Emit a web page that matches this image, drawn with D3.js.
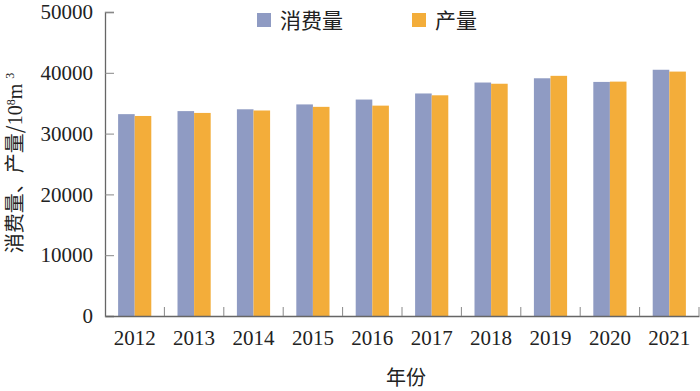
<!DOCTYPE html>
<html>
<head>
<meta charset="utf-8">
<script src="https://cdn.jsdelivr.net/npm/d3@7"></script>
<style>
  body { margin: 0; background: #fff; }
  text { font-family: "Liberation Serif", "Noto Sans CJK SC", serif; fill: #222; }
</style>
</head>
<body>
<script>
var w = 700;
var h = 391;

var years = ["2012", "2013", "2014", "2015", "2016", "2017", "2018", "2019", "2020", "2021"];
var consumption = [33200, 33700, 34000, 34800, 35600, 36600, 38400, 39100, 38500, 40500];
var production = [32900, 33400, 33800, 34400, 34600, 36300, 38200, 39500, 38550, 40200];
var seriesNames = ["消费量", "产量"];
var colors = ["#8f9bc3", "#f3ad3a"];
var yTicks = [0, 10000, 20000, 30000, 40000, 50000];

var serif = "'Liberation Serif', 'Times New Roman', serif";
var cjk = "'Noto Sans CJK SC', sans-serif";

var margin = {left: 105, right: 1, top: 12, bottom: 75};

var svg = d3.select("body").append("svg")
    .attr("width", w)
    .attr("height", h);

var x = d3.scaleBand()
  .domain(years)
  .range([margin.left, w - margin.right]);

var inner = d3.scaleBand()
  .domain([0, 1])
  .range([0, x.bandwidth()])
  .paddingOuter(0.79)
  .paddingInner(0);

var y = d3.scaleLinear()
  .domain([0, 50000])
  .range([h - margin.bottom, margin.top]);

// bars
var rows = years.map(function(d, i) {
  return {year: d, values: [consumption[i], production[i]]};
});

var groups = svg.append("g").selectAll("g")
  .data(rows)
  .enter().append("g")
  .attr("transform", function(d) { return "translate(" + x(d.year) + ",0)"; });

groups.selectAll("rect")
  .data(function(d) { return d.values; })
  .enter().append("rect")
  .attr("x", function(d, i) { return inner(i); })
  .attr("width", inner.bandwidth())
  .attr("y", function(d) { return y(d); })
  .attr("height", function(d) { return y(0) - y(d); })
  .attr("fill", function(d, i) { return colors[i]; });

// y axis
var yAxis = svg.append("g")
  .attr("transform", "translate(" + margin.left + ",0)")
  .call(d3.axisRight(y).tickValues(yTicks).tickSize(9).tickFormat(d3.format("d")));
yAxis.attr("font-family", null);
yAxis.select(".domain").attr("stroke", "#666").attr("stroke-width", 1.3);
yAxis.selectAll(".tick line").attr("stroke", "#888");
yAxis.selectAll(".tick text")
  .attr("x", -12)
  .attr("text-anchor", "end")
  .style("font-size", "21px")
  .style("font-family", serif)
  .attr("fill", "#222");

// x axis
var xAxis = svg.append("g")
  .attr("transform", "translate(0," + y(0) + ")")
  .call(d3.axisBottom(x).tickSize(0).tickSizeOuter(0));
xAxis.attr("font-family", null);
xAxis.select(".domain").attr("stroke", "#666").attr("stroke-width", 1.3);
xAxis.selectAll(".tick text")
  .attr("y", 14)
  .style("font-size", "21px")
  .style("font-family", serif)
  .attr("fill", "#222");

// band separator ticks pointing up
svg.append("g").selectAll("line")
  .data(years)
  .enter().append("line")
  .attr("x1", function(d) { return x(d) + x.bandwidth(); })
  .attr("x2", function(d) { return x(d) + x.bandwidth(); })
  .attr("y1", y(0))
  .attr("y2", y(0) - 9)
  .attr("stroke", "#888");

// axis titles
svg.append("text")
  .attr("x", 406)
  .attr("y", 385)
  .attr("text-anchor", "middle")
  .style("font-size", "20px")
  .style("font-family", cjk)
  .text("年份");

var yl = svg.append("text")
  .attr("transform", "translate(22,163) rotate(-90)")
  .attr("text-anchor", "middle")
  .style("font-size", "20px")
  .style("font-family", cjk);
yl.append("tspan").text("消费量、产量/");
yl.append("tspan").style("font-family", serif).text("10");
yl.append("tspan").attr("dy", -7).style("font-size", "12px").style("font-family", serif).text("8");
yl.append("tspan").attr("dy", 7).style("font-family", serif).text("m ");
yl.append("tspan").attr("dy", -8).style("font-size", "12px").style("font-family", serif).text("3");

// legend
var legend = svg.append("g").selectAll("g")
  .data(seriesNames)
  .enter().append("g")
  .attr("transform", function(d, i) { return "translate(" + (257 + i * 155) + ",13)"; });

legend.append("rect")
  .attr("width", 14)
  .attr("height", 14)
  .attr("fill", function(d, i) { return colors[i]; });

legend.append("text")
  .attr("x", 23)
  .attr("y", 15)
  .style("font-size", "21px")
  .style("font-family", cjk)
  .text(function(d) { return d; });
</script>
</body>
</html>
